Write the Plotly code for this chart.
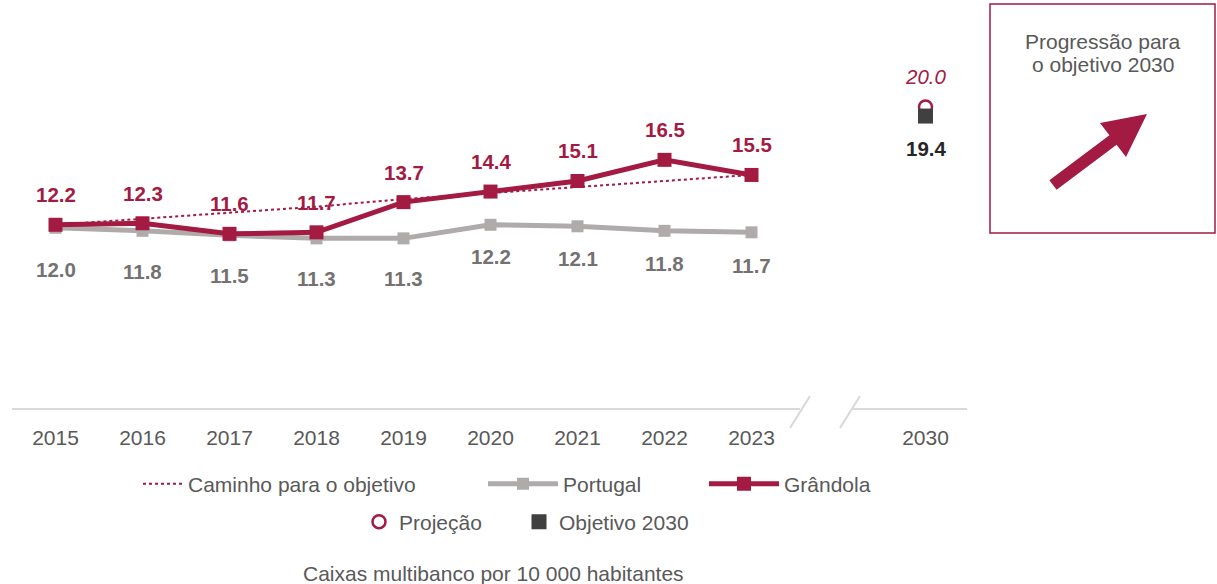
import plotly.graph_objects as go

# data
years = ["2015", "2016", "2017", "2018", "2019", "2020", "2021", "2022", "2023"]
grandola = [12.2, 12.3, 11.6, 11.7, 13.7, 14.4, 15.1, 16.5, 15.5]
portugal = [12.0, 11.8, 11.5, 11.3, 11.3, 12.2, 12.1, 11.8, 11.7]
caminho = [12.2, 12.6, 13.0, 13.4, 13.9, 14.3, 14.7, 15.1, 15.5]
target_year = "2030"
projecao_2030 = 20.0
objetivo_2030 = 19.4

CRIMSON = "#A31A43"
GREY = "#AFABAB"
DARK = "#404040"
TXT = "#595959"
FONT = "Liberation Sans, Arial, sans-serif"
W, H = 1217, 584

x_pos = list(range(len(years)))
x_target = len(years) + 1  # one empty slot for the axis break


def px(x, y):
    # pixel -> paper coords (margins are zero)
    return x / W, 1 - y / H


fig = go.Figure()

fig.add_trace(go.Scatter(x=x_pos, y=caminho, mode="lines", name="Caminho para o objetivo",
                         line=dict(color=CRIMSON, width=2, dash="dot"),
                         legend="legend", showlegend=True, hoverinfo="skip"))
fig.add_trace(go.Scatter(x=x_pos, y=portugal, mode="lines+markers", name="Portugal",
                         line=dict(color=GREY, width=5),
                         marker=dict(symbol="square", size=12, color=GREY),
                         legend="legend2"))
fig.add_trace(go.Scatter(x=x_pos, y=grandola, mode="lines+markers", name="Grândola",
                         line=dict(color=CRIMSON, width=5),
                         marker=dict(symbol="square", size=14, color=CRIMSON),
                         legend="legend2"))
fig.add_trace(go.Scatter(x=[x_target], y=[projecao_2030], mode="markers", name="Projeção",
                         marker=dict(symbol="circle-open", size=13, color=CRIMSON,
                                     line=dict(width=2.5, color=CRIMSON)),
                         legend="legend3"))
fig.add_trace(go.Scatter(x=[x_target], y=[objetivo_2030], mode="markers", name="Objetivo 2030",
                         marker=dict(symbol="square", size=15, color=DARK),
                         legend="legend4"))

LBL = 20.5
annotations = []
for x, v in zip(x_pos, grandola):
    annotations.append(dict(x=x, y=v, text=f"{v:.1f}", showarrow=False, yshift=30,
                            font=dict(size=LBL, color=CRIMSON, family=FONT, weight="bold")))
port_shift = [-42, -41, -40, -40, -40, -32, -32, -33, -33]
for x, v, s in zip(x_pos, portugal, port_shift):
    annotations.append(dict(x=x, y=v, text=f"{v:.1f}", showarrow=False, yshift=s,
                            font=dict(size=LBL, color="#757171", family=FONT, weight="bold")))
annotations.append(dict(x=x_target, y=projecao_2030, text=f"<i>{projecao_2030:.1f}</i>",
                        showarrow=False, yshift=31,
                        font=dict(size=LBL, color=CRIMSON, family=FONT)))
annotations.append(dict(x=x_target, y=objetivo_2030, text=f"{objetivo_2030:.1f}",
                        showarrow=False, yshift=-32,
                        font=dict(size=LBL, color="#262626", family=FONT, weight="bold")))
cx, cy = px(493, 573)
annotations.append(dict(xref="paper", yref="paper", x=cx, y=cy, xanchor="center", yanchor="middle",
                        text="Caixas multibanco por 10 000 habitantes",
                        showarrow=False, font=dict(size=21, color=TXT, family=FONT)))
for line, ypix in [("Progressão para", 41), ("o objetivo 2030", 65)]:
    bx, by = px(1103, ypix)
    annotations.append(dict(xref="paper", yref="paper", x=bx, y=by, xanchor="center",
                            yanchor="middle", text=line, showarrow=False,
                            font=dict(size=21, color=TXT, family=FONT)))

shapes = []
# axis line with break
axis_col = "#D9D9D9"
for (a, b) in [(12, 800), (852, 967)]:
    x0, y0 = px(a, 409)
    x1, _ = px(b, 409)
    shapes.append(dict(type="line", xref="paper", yref="paper", x0=x0, x1=x1, y0=y0, y1=y0,
                       line=dict(color=axis_col, width=2)))
for (a, b) in [(790, 810), (840, 860)]:
    x0, y0 = px(a, 428)
    x1, y1 = px(b, 396)
    shapes.append(dict(type="line", xref="paper", yref="paper", x0=x0, x1=x1, y0=y0, y1=y1,
                       line=dict(color=axis_col, width=2)))

# right box
x0, y0 = px(990, 233)
x1, y1 = px(1215, 4)
shapes.append(dict(type="rect", xref="paper", yref="paper", x0=x0, x1=x1, y0=y0, y1=y1,
                   line=dict(color=CRIMSON, width=1.5)))

# arrow polygon
arrow_pts = [(1056.6, 189.8), (1049.4, 180.2), (1109.4, 135.2), (1100, 123),
             (1147, 114), (1126, 157), (1116.6, 144.8)]
path = ""
for i, (a, b) in enumerate(arrow_pts):
    u, v = px(a, b)
    path += ("M" if i == 0 else "L") + f"{u:.5f},{v:.5f} "
path += "Z"
shapes.append(dict(type="path", xref="paper", yref="paper", path=path,
                   fillcolor=CRIMSON, line=dict(width=0)))

leg_font = dict(size=21, color=TXT, family=FONT)
l1x, l1y = px(138, 484)
l2x, _ = px(483, 484)
l3x, l3y = px(359, 522)
l4x, _ = px(519, 522)

fig.update_layout(
    width=W, height=H,
    margin=dict(l=0, r=0, t=0, b=0),
    paper_bgcolor="white", plot_bgcolor="white",
    font=dict(family=FONT, color=TXT),
    showlegend=True,
    xaxis=dict(domain=[12 / W, 969 / W], range=[-0.5, 10.5],
               tickvals=x_pos + [x_target], ticktext=years + [target_year],
               showgrid=False, zeroline=False, showline=False, ticks="",
               ticklabelstandoff=14, tickfont=dict(size=21, color=TXT, family=FONT)),
    yaxis=dict(domain=[175 / H, 1], range=[0, 409 / 15.1], visible=False),
    legend=dict(x=l1x, y=l1y, xanchor="left", yanchor="middle", orientation="h",
                font=leg_font, itemwidth=40, bgcolor="rgba(0,0,0,0)"),
    legend2=dict(x=l2x, y=l1y, xanchor="left", yanchor="middle", orientation="h",
                 font=leg_font, itemwidth=70, entrywidth=136, bgcolor="rgba(0,0,0,0)"),
    legend3=dict(x=l3x, y=l3y, xanchor="left", yanchor="middle", orientation="h",
                 font=leg_font, itemwidth=30, bgcolor="rgba(0,0,0,0)"),
    legend4=dict(x=l4x, y=l3y, xanchor="left", yanchor="middle", orientation="h",
                 font=leg_font, itemwidth=30, bgcolor="rgba(0,0,0,0)"),
    annotations=annotations,
    shapes=shapes,
    hovermode=False,
)

fig.write_html("out.html", config={"displayModeBar": False},
               post_script="document.body.style.margin='0';")
